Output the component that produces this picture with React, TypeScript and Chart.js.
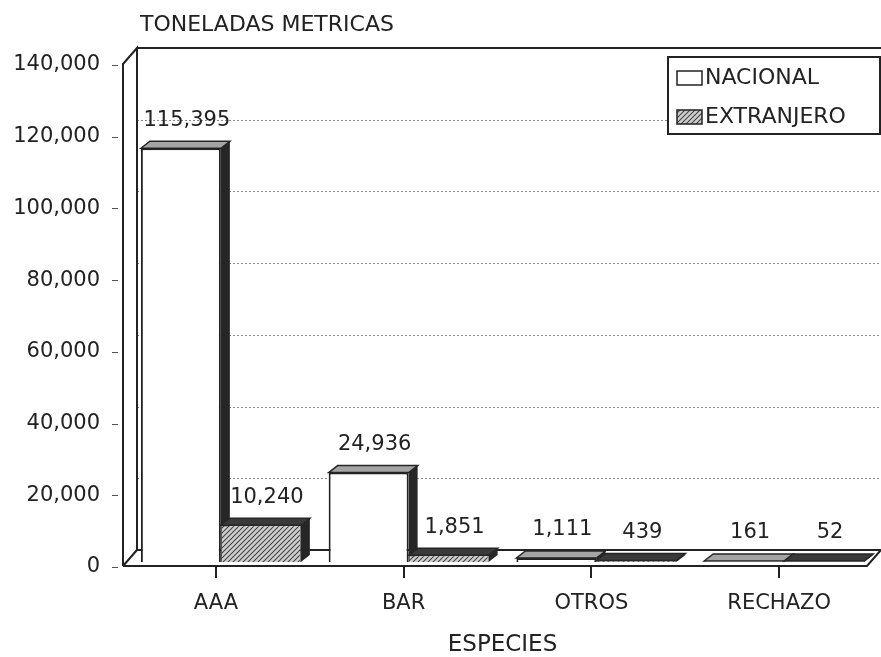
import React, { useEffect, useRef } from "react";
import { Chart, registerables } from "chart.js";

Chart.register(...registerables);

// ---------- data ----------
const categories = ["AAA", "BAR", "OTROS", "RECHAZO"];
const seriesNames = ["NACIONAL", "EXTRANJERO"];
const nacional = [115395, 24936, 1111, 161];
const extranjero = [10240, 1851, 439, 52];
const yTicks = [0, 20000, 40000, 60000, 80000, 100000, 120000, 140000];
const yTitle = "TONELADAS METRICAS";
const xTitle = "ESPECIES";

// ---------- style ----------
const FONT = "'DejaVu Sans', 'Liberation Sans', Arial, sans-serif";
const INK = "#222222";
const BAR_DX = 9; // bar extrusion
const BAR_DY = 7;
const TOP_FACE = ["#a4a4a4", "#3a3a3a"];
const FRONT_DY = 4; // wall front plane relative to bar plane
const BACK_DY = -12; // wall back plane relative to bar plane
const WALL_FRONT_X = -4; // relative to chartArea.left
const WALL_BACK_X = 10;

const fmt = (v: number) => Number(v).toLocaleString("en-US");

function makeHatch(ctx: CanvasRenderingContext2D): CanvasPattern | string {
  const c = document.createElement("canvas");
  c.width = 5;
  c.height = 5;
  const g = c.getContext("2d");
  if (!g) return "#aaa";
  g.fillStyle = "#cfcfcf";
  g.fillRect(0, 0, 5, 5);
  g.strokeStyle = "#444444";
  g.lineWidth = 1.1;
  g.beginPath();
  g.moveTo(0, 5);
  g.lineTo(5, 0);
  g.moveTo(-2.5, 2.5);
  g.lineTo(2.5, -2.5);
  g.moveTo(2.5, 7.5);
  g.lineTo(7.5, 2.5);
  g.stroke();
  return ctx.createPattern(c, "repeat") || "#aaa";
}

function drawExtrusion(ctx: CanvasRenderingContext2D, el: any, topColor: string) {
  const p = el.getProps(["x", "y", "base", "width"], true);
  const x1 = p.x - p.width / 2;
  const x2 = p.x + p.width / 2;
  const t = Math.min(p.y, p.base - 1);
  const b = p.base;
  ctx.fillStyle = "#262626";
  ctx.beginPath();
  ctx.moveTo(x2, t);
  ctx.lineTo(x2 + BAR_DX, t - BAR_DY);
  ctx.lineTo(x2 + BAR_DX, b - BAR_DY);
  ctx.lineTo(x2, b);
  ctx.closePath();
  ctx.fill();
  ctx.fillStyle = topColor;
  ctx.strokeStyle = "#262626";
  ctx.lineWidth = 1.5;
  ctx.beginPath();
  ctx.moveTo(x1, t);
  ctx.lineTo(x1 + BAR_DX, t - BAR_DY);
  ctx.lineTo(x2 + BAR_DX, t - BAR_DY);
  ctx.lineTo(x2, t);
  ctx.closePath();
  ctx.fill();
  ctx.stroke();
}

const scenePlugin = {
  id: "scene3d",
  beforeDatasetsDraw(chart: any) {
    const { ctx, chartArea } = chart;
    const y = chart.scales.y;
    const x = chart.scales.x;
    const W = chart.width;
    const fx = chartArea.left + WALL_FRONT_X;
    const bx = chartArea.left + WALL_BACK_X;
    const top = y.getPixelForValue(yTicks[yTicks.length - 1]);
    const zero = y.getPixelForValue(0);
    ctx.save();
    // dotted gridlines on back wall
    ctx.strokeStyle = "#8a8a8a";
    ctx.lineWidth = 1;
    ctx.setLineDash([2, 2]);
    yTicks.forEach((v) => {
      if (v === 0 || v === yTicks[yTicks.length - 1]) return;
      const py = Math.round(y.getPixelForValue(v) + BACK_DY) + 0.5;
      ctx.beginPath();
      ctx.moveTo(bx, py);
      ctx.lineTo(W, py);
      ctx.stroke();
    });
    ctx.setLineDash([]);
    ctx.strokeStyle = INK;
    ctx.lineWidth = 2;
    // top border of back wall
    ctx.beginPath();
    ctx.moveTo(bx, top + BACK_DY);
    ctx.lineTo(W, top + BACK_DY);
    ctx.stroke();
    // left wall
    ctx.beginPath();
    ctx.moveTo(fx, zero + FRONT_DY);
    ctx.lineTo(fx, top + FRONT_DY);
    ctx.lineTo(bx, top + BACK_DY);
    ctx.lineTo(bx, zero + BACK_DY);
    ctx.lineTo(fx, zero + FRONT_DY);
    ctx.stroke();
    // floor
    const depthX = WALL_BACK_X - WALL_FRONT_X;
    ctx.beginPath();
    ctx.moveTo(bx, zero + BACK_DY);
    ctx.lineTo(W, zero + BACK_DY);
    ctx.moveTo(fx, zero + FRONT_DY);
    ctx.lineTo(W - depthX, zero + FRONT_DY);
    ctx.lineTo(W, zero + BACK_DY);
    ctx.stroke();
    // y tick dashes
    ctx.lineWidth = 1;
    ctx.strokeStyle = "#555";
    yTicks.forEach((v) => {
      const py = Math.round(y.getPixelForValue(v) + 5) + 0.5;
      ctx.beginPath();
      ctx.moveTo(fx - 11, py);
      ctx.lineTo(fx - 5, py);
      ctx.stroke();
    });
    // x tick marks
    ctx.lineWidth = 2;
    ctx.strokeStyle = INK;
    categories.forEach((_, i) => {
      const px = Math.round(x.getPixelForValue(i) - 5);
      ctx.beginPath();
      ctx.moveTo(px, zero + FRONT_DY);
      ctx.lineTo(px, zero + FRONT_DY + 12);
      ctx.stroke();
    });
    // extrusion of first series (sits behind the second series' front faces)
    chart.getDatasetMeta(0).data.forEach((el: any) => drawExtrusion(ctx, el, TOP_FACE[0]));
    ctx.restore();
  },
  afterDatasetsDraw(chart: any) {
    const { ctx } = chart;
    ctx.save();
    chart.getDatasetMeta(1).data.forEach((el: any) => drawExtrusion(ctx, el, TOP_FACE[1]));
    ctx.restore();
  },
  afterDraw(chart: any) {
    const { ctx } = chart;
    ctx.save();
    ctx.fillStyle = INK;
    ctx.textBaseline = "middle";
    // value labels
    ctx.font = `21px ${FONT}`;
    ctx.textAlign = "center";
    chart.data.datasets.forEach((ds: any, di: number) => {
      const meta = chart.getDatasetMeta(di);
      meta.data.forEach((el: any, i: number) => {
        const p = el.getProps(["x", "y", "base"], true);
        const t = Math.min(p.y, p.base - 1);
        ctx.fillText(fmt(ds.data[i]), p.x + 6, t - BAR_DY - 21);
      });
    });
    // axis title (top-left)
    ctx.textAlign = "left";
    ctx.font = `22px ${FONT}`;
    ctx.fillText(yTitle, 140, 25);
    // legend
    const lx = 668, ly = 57, lw = 212, lh = 77;
    ctx.fillStyle = "#ffffff";
    ctx.fillRect(lx, ly, lw, lh);
    ctx.strokeStyle = INK;
    ctx.lineWidth = 2;
    ctx.strokeRect(lx, ly, lw, lh);
    const fills = [chart.data.datasets[0].backgroundColor, chart.data.datasets[1].backgroundColor];
    seriesNames.forEach((name, i) => {
      const cy = ly + 21 + i * 39;
      ctx.fillStyle = fills[i];
      ctx.fillRect(677, cy - 7, 25, 14);
      ctx.lineWidth = 1.5;
      ctx.strokeStyle = INK;
      ctx.strokeRect(677, cy - 7, 25, 14);
      ctx.fillStyle = INK;
      ctx.font = `22px ${FONT}`;
      ctx.fillText(name, 705, cy);
    });
    ctx.restore();
  },
};

export default function App() {
  const ref = useRef<HTMLCanvasElement | null>(null);
  useEffect(() => {
    document.body.style.margin = "0";
    const canvas = ref.current;
    if (!canvas) return;
    const ctx = canvas.getContext("2d") as CanvasRenderingContext2D;
    const hatch = makeHatch(ctx);
    const chart = new Chart(canvas, {
      type: "bar",
      data: {
        labels: categories,
        datasets: [
          {
            label: seriesNames[0],
            data: nacional,
            backgroundColor: "#ffffff",
            borderColor: INK,
            borderWidth: 2,
          },
          {
            label: seriesNames[1],
            data: extranjero,
            backgroundColor: hatch as any,
            borderColor: "#555555",
            borderWidth: 1,
          },
        ],
      },
      options: {
        animation: false,
        responsive: false,
        layout: { padding: { left: 0, right: 3, top: 60, bottom: 0 } },
        datasets: { bar: { barPercentage: 1, categoryPercentage: 0.852 } },
        plugins: {
          legend: { display: false },
          tooltip: { enabled: false },
          title: { display: false },
        },
        scales: {
          x: {
            grid: { display: false, drawTicks: false },
            border: { display: false },
            ticks: {
              font: { family: FONT, size: 21 },
              color: INK,
              padding: 29,
              labelOffset: -5,
              maxRotation: 0,
              autoSkip: false,
            },
            title: {
              display: true,
              text: xTitle,
              color: INK,
              font: { family: FONT, size: 23, lineHeight: 1 },
              padding: 0,
            },
            afterFit: (s: any) => {
              s.height = 95;
            },
          },
          y: {
            min: 0,
            max: 140000,
            afterBuildTicks: (s: any) => {
              s.ticks = yTicks.map((v) => ({ value: v }));
            },
            grid: { display: false, drawTicks: false },
            border: { display: false },
            ticks: {
              font: { family: FONT, size: 21 },
              color: INK,
              padding: 27,
              labelOffset: 5,
              callback: (v: any) => fmt(v),
            },
            afterFit: (s: any) => {
              s.width = 127;
            },
          },
        },
      },
      plugins: [scenePlugin],
    });
    return () => chart.destroy();
  }, []);
  return (
    <div style={{ width: 881, height: 657, background: "#ffffff" }}>
      <canvas ref={ref} width={881} height={657} style={{ display: "block" }} />
    </div>
  );
}
